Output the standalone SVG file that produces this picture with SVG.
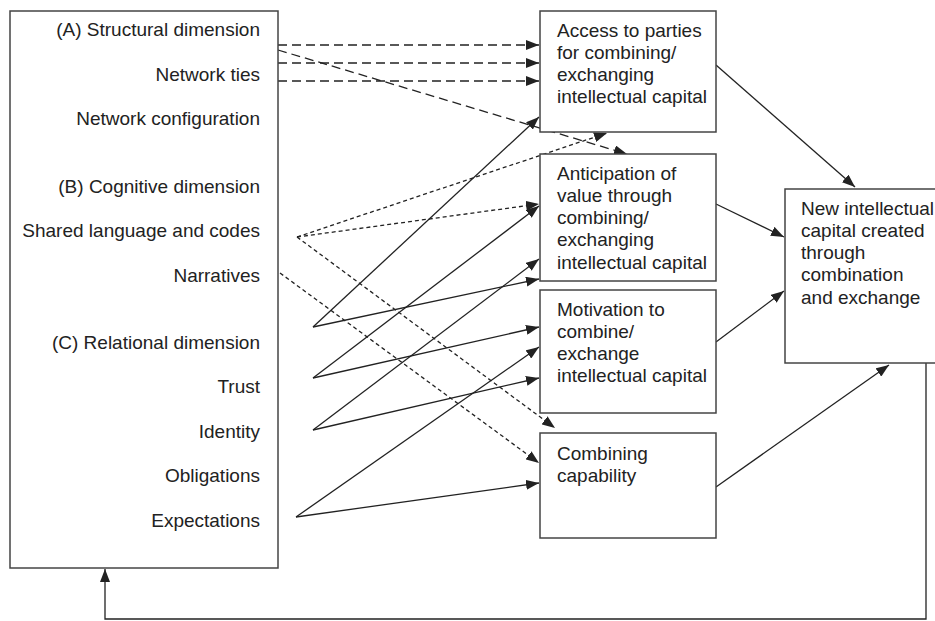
<svg xmlns="http://www.w3.org/2000/svg" width="935" height="621" viewBox="0 0 935 621">
<style>
.box{fill:#fff;stroke:#444;stroke-width:1.5}
.lt{font-family:"Liberation Sans",Arial,sans-serif;font-size:19px;fill:#222;text-anchor:end}
.bt{font-family:"Liberation Sans",Arial,sans-serif;font-size:19px;fill:#222}
.c{fill:none;stroke:#222;stroke-width:1.3}
.ld{stroke-dasharray:9 5}
.sd{stroke-dasharray:4 3}
</style>
<defs>
<marker id="ah" markerUnits="userSpaceOnUse" markerWidth="14" markerHeight="10" refX="13" refY="5" orient="auto">
<path d="M0,0 L13,5 L0,10 Z" fill="#222"/>
</marker>
</defs>
<rect width="935" height="621" fill="#fff"/>
<g id="connectors">
<path class="c ld" d="M278,45 H539" marker-end="url(#ah)"/>
<path class="c ld" d="M278,63 H539" marker-end="url(#ah)"/>
<path class="c ld" d="M278,81 H539" marker-end="url(#ah)"/>
<path class="c ld" d="M278,50 L627,154" marker-end="url(#ah)"/>
<path class="c sd" d="M297,237 L607,133" marker-end="url(#ah)"/>
<path class="c sd" d="M297,237 L539,204" marker-end="url(#ah)"/>
<path class="c sd" d="M297,237 L555,428" marker-end="url(#ah)"/>
<path class="c sd" d="M280,273 L539,463" marker-end="url(#ah)"/>
<path class="c" d="M313,327 L539,117" marker-end="url(#ah)"/>
<path class="c" d="M313,327 L539,279" marker-end="url(#ah)"/>
<path class="c" d="M313,378 L539,206" marker-end="url(#ah)"/>
<path class="c" d="M313,378 L539,327" marker-end="url(#ah)"/>
<path class="c" d="M313,430 L539,259" marker-end="url(#ah)"/>
<path class="c" d="M313,430 L539,378" marker-end="url(#ah)"/>
<path class="c" d="M296,517 L539,347" marker-end="url(#ah)"/>
<path class="c" d="M296,517 L539,483" marker-end="url(#ah)"/>
<path class="c" d="M716,65 L855,187" marker-end="url(#ah)"/>
<path class="c" d="M716,204 L784,237" marker-end="url(#ah)"/>
<path class="c" d="M716,342 L784,291" marker-end="url(#ah)"/>
<path class="c" d="M716,487 L889,365" marker-end="url(#ah)"/>
<path class="c" d="M926,363 V619 H105 V569" marker-end="url(#ah)"/>
</g>
<g id="social-capital">
<rect class="box" x="10" y="11" width="268" height="557"/>
<text class="lt" x="260" y="36">(A) Structural dimension</text>
<text class="lt" x="260" y="81">Network ties</text>
<text class="lt" x="260" y="125">Network configuration</text>
<text class="lt" x="260" y="193">(B) Cognitive dimension</text>
<text class="lt" x="260" y="237">Shared language and codes</text>
<text class="lt" x="260" y="282">Narratives</text>
<text class="lt" x="260" y="349">(C) Relational dimension</text>
<text class="lt" x="260" y="393">Trust</text>
<text class="lt" x="260" y="438">Identity</text>
<text class="lt" x="260" y="482">Obligations</text>
<text class="lt" x="260" y="527">Expectations</text>
</g>
<g id="access">
<rect class="box" x="540" y="11" width="176" height="121"/>
<text class="bt" x="557" y="37">Access to parties</text>
<text class="bt" x="557" y="59">for combining/</text>
<text class="bt" x="557" y="81">exchanging</text>
<text class="bt" x="557" y="103">intellectual capital</text>
</g>
<g id="anticipation">
<rect class="box" x="540" y="154" width="176" height="127"/>
<text class="bt" x="557" y="180">Anticipation of</text>
<text class="bt" x="557" y="202">value through</text>
<text class="bt" x="557" y="224">combining/</text>
<text class="bt" x="557" y="246">exchanging</text>
<text class="bt" x="557" y="269">intellectual capital</text>
</g>
<g id="motivation">
<rect class="box" x="540" y="290" width="176" height="123"/>
<text class="bt" x="557" y="316">Motivation to</text>
<text class="bt" x="557" y="338">combine/</text>
<text class="bt" x="557" y="360">exchange</text>
<text class="bt" x="557" y="382">intellectual capital</text>
</g>
<g id="capability">
<rect class="box" x="540" y="433" width="176" height="105"/>
<text class="bt" x="557" y="460">Combining</text>
<text class="bt" x="557" y="482">capability</text>
</g>
<g id="new-capital">
<rect class="box" x="785" y="189" width="160" height="174"/>
<text class="bt" x="801" y="215">New intellectual</text>
<text class="bt" x="801" y="237">capital created</text>
<text class="bt" x="801" y="259">through</text>
<text class="bt" x="801" y="281">combination</text>
<text class="bt" x="801" y="304">and exchange</text>
</g>
</svg>
